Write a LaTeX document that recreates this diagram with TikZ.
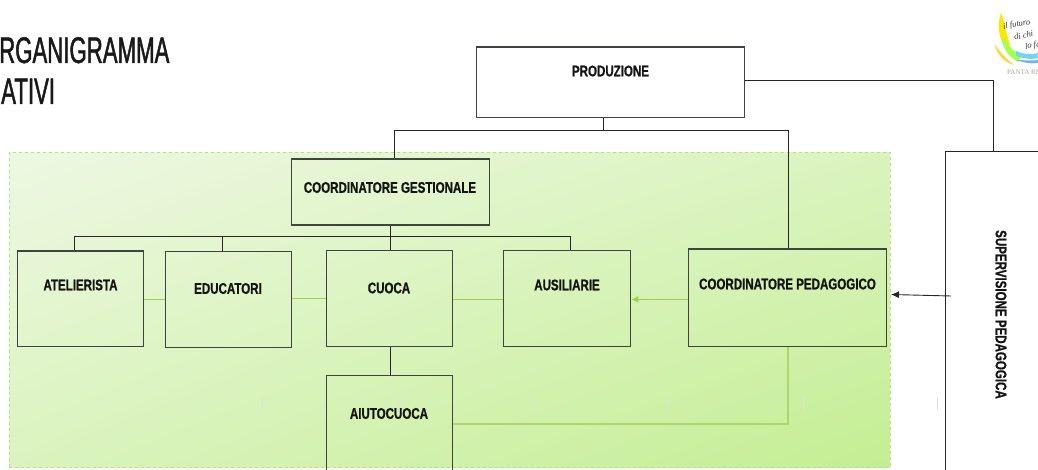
\documentclass[tikz,border=0pt]{standalone}
\usepackage{fontspec}
\setmainfont{Liberation Sans}
\newfontfamily\titlefont[FakeStretch=0.60,FakeBold=1.2]{Liberation Sans}
\newfontfamily\boxfont[FakeStretch=0.75,BoldFont={Liberation Sans Bold},BoldFeatures={FakeStretch=0.75,FakeBold=0.8}]{Liberation Sans}
\newfontfamily\logofont{Liberation Serif}
\usetikzlibrary{arrows.meta,calc,shadings}
\definecolor{linegrey}{HTML}{3F443C}
\definecolor{greenline}{HTML}{A2CE4E}
\definecolor{greendash}{HTML}{B5E37E}
\definecolor{bandtop}{HTML}{EDF8E2}
\definecolor{bandbot}{HTML}{C4EE93}
\definecolor{tickgrey}{HTML}{DDE2DA}
\tikzset{
  orgbox/.style={draw=linegrey,line width=1.3pt,inner sep=0pt,fill=none,anchor=north west},
  orglabel/.style={font=\boxfont\bfseries\fontsize{15.4}{17}\selectfont,text=black!92,inner sep=0pt},
  titletext/.style={anchor=base west,inner sep=0pt,font=\titlefont\fontsize{37}{37}\selectfont,text=black!90},
  blackline/.style={draw=black!85,line width=1pt},
  greenlink/.style={draw=greenline,line width=1pt},
  tickmark/.style={draw=tickgrey,line width=1pt},
  logoscript/.style={anchor=west,inner sep=0pt,font=\logofont\itshape\fontsize{8.5}{9}\selectfont,text=black!80,rotate=10}
}
\begin{document}
\begin{tikzpicture}[x=1pt,y=-1pt]
\useasboundingbox (0,0) rectangle (1038,470);
\clip (0,0) rectangle (1038,470);
% title
\node[titletext] (t1) at (-1,63) {RGANIGRAMMA};
\node[titletext] (t2) at (1,104) {ATIVI};
% green band
\shade[lower right=bandbot,upper left=bandtop,lower left=bandtop!55!bandbot,upper right=bandtop!55!bandbot] (9,152.5) rectangle (890,467);
\node[draw=greendash,dashed,line width=0.8pt,inner sep=0pt,anchor=north west,minimum width=881pt,minimum height=314.5pt] (band) at (9,152.5) {};
% ticks
\foreach \tx in {262.5,398.5,533.5,667.5,803.5,937.5} \draw[tickmark] (\tx,397) -- (\tx,410);
% boxes
\node[orgbox,minimum width=267.5pt,minimum height=70.5pt] (prod) at (476,46.5) {};
\node[orgbox,minimum width=198pt,minimum height=66pt] (gest) at (290.5,158.5) {};
\node[orgbox,minimum width=126pt,minimum height=95.5pt] (atel) at (17,250.5) {};
\node[orgbox,minimum width=126pt,minimum height=96pt] (edu) at (165,251) {};
\node[orgbox,minimum width=126pt,minimum height=96pt] (cuoca) at (326,250) {};
\node[orgbox,minimum width=126pt,minimum height=110pt] (aiuto) at (326,375) {};
\node[orgbox,minimum width=127pt,minimum height=96pt] (aus) at (503,250) {};
\node[orgbox,minimum width=198pt,minimum height=97.5pt] (ped) at (688,248.5) {};
\node[draw=black!85,line width=1pt,fill=white,anchor=north west,minimum width=120pt,minimum height=340pt,inner sep=0pt] (sup) at (945,151) {};
% labels
\node[orglabel] (lprod) at (610.5,71) {PRODUZIONE};
\node[orglabel] (lgest) at (390,187.5) {COORDINATORE GESTIONALE};
\node[orglabel] (latel) at (80.5,285) {ATELIERISTA};
\node[orglabel] (ledu) at (228,288.5) {EDUCATORI};
\node[orglabel] (lcuoca) at (389,288) {CUOCA};
\node[orglabel] (laiuto) at (389,413.5) {AIUTOCUOCA};
\node[orglabel] (laus) at (567,285) {AUSILIARIE};
\node[orglabel] (lped) at (787.5,284) {COORDINATORE PEDAGOGICO};
\node[orglabel,rotate=-90] (lsup) at (1001,314.5) {SUPERVISIONE PEDAGOGICA};
% connector helpers
\coordinate (prodbus) at (603,131);
\coordinate (gestbus) at (390,236.5);
\coordinate (corner) at (993,81);
\coordinate (supfree) at (951,296);
\coordinate (suptip) at (891,294.5);
\coordinate (gcorner) at (788,424);
\coordinate (xa) at (394,0);
\coordinate (xb) at (74,0);
\coordinate (xc) at (222,0);
\coordinate (xd) at (570,0);
\coordinate (ya) at (0,299.5);
\coordinate (yb) at (0,298.5);
% black connectors
\draw[blackline] (prod.south -| prodbus) -- (prodbus);
\draw[blackline] (gest.north -| xa) |- (prodbus);
\draw[blackline] (ped.north -| gcorner) |- (prodbus);
\draw[blackline] (prod.east |- corner) -- (corner) -- (sup.north -| corner);
\draw[blackline] (gest.south -| gestbus) -- (cuoca.north -| gestbus);
\draw[blackline] (atel.north -| xb) |- (gestbus);
\draw[blackline] (edu.north -| xc) |- (gestbus);
\draw[blackline] (aus.north -| xd) |- (gestbus);
\draw[blackline] (cuoca.south -| gestbus) -- (aiuto.north -| gestbus);
\draw[draw=black!85,line width=0.9pt,-{Latex[length=8pt,width=7pt]}] (supfree) -- (suptip);
% green connectors
\draw[greenlink] (atel.east |- ya) -- (edu.west |- ya);
\draw[greenlink,line width=1.2pt] (edu.east |- yb) -- (cuoca.west |- yb);
\draw[greenlink] (cuoca.east |- ya) -- (aus.west |- ya);
\draw[greenlink,-{Latex[length=7pt,width=7pt]}] (ped.west |- ya) -- (aus.east |- ya);
\draw[greenlink,line width=1.3pt,draw=greenline!85!white] (ped.south -| gcorner) -- (gcorner) -- (aiuto.east |- gcorner);
% logo
\fill[orange!45!yellow!75] (994.5,44) .. controls (997,54) and (1003,62) .. (1014,65) .. controls (1006,59) and (1000,52) .. (994.5,44) -- cycle;
\fill[yellow!90!orange] (1001,13) .. controls (997,24) and (998,38) .. (1006,48) -- (1010,44) .. controls (1006,34) and (1005,22) .. (1001,13) -- cycle;
\fill[green!50!yellow!70] (1001,38) .. controls (1004,50) and (1008,56) .. (1018,62) -- (1022,55) .. controls (1014,52) and (1010,48) .. (1006,40) -- cycle;
\fill[cyan!55] (1016,51) .. controls (1022,54) and (1030,55) .. (1038,53) -- (1038,58) .. controls (1030,60) and (1022,58) .. (1016,56) -- cycle;
\fill[cyan!70!blue!55] (1016,60) .. controls (1024,63) and (1032,64) .. (1038,63) -- (1038,60) .. controls (1030,61) and (1024,60) .. (1016,60) -- cycle;
\node[anchor=west,inner sep=0pt,font=\logofont\fontsize{7}{7}\selectfont,text=black!35] (logotext) at (1007,72) {PANTA RE};
\node[logoscript] (logoa) at (1003,27) {il futuro};
\node[logoscript] (logob) at (1014,37) {di chi};
\node[logoscript] (logoc) at (1025,47) {lo fa};
\end{tikzpicture}
\end{document}
